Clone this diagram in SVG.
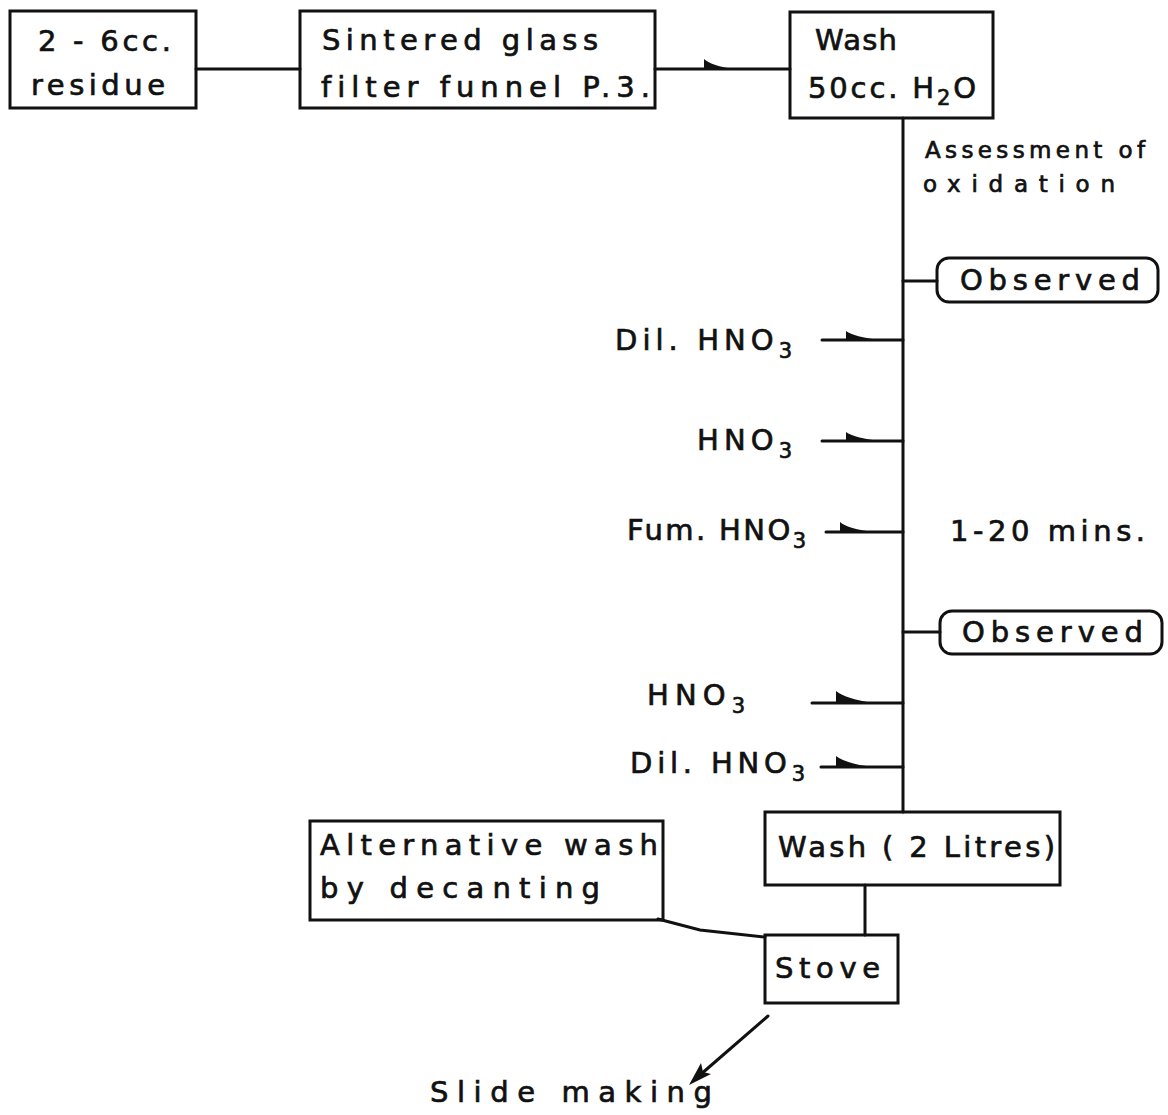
<svg xmlns="http://www.w3.org/2000/svg" width="1168" height="1115" viewBox="0 0 1168 1115">
<defs>
<style>
.box{fill:none;stroke:#111;stroke-width:3}
.ln{fill:none;stroke:#111;stroke-width:3;stroke-linecap:round}
.fin{fill:#111;stroke:none}
text{font-family:"DejaVu Sans","Liberation Sans",sans-serif;font-size:29px;fill:#111;stroke:#111;stroke-width:0.7;font-variant-ligatures:none}
.sm{font-size:23px}
.sub{font-size:21px}
</style>
</defs>
<rect width="1168" height="1115" fill="#fff"/>

<g id="connectors">
<line class="ln" x1="196" y1="69" x2="300" y2="69"/>
<line class="ln" x1="655" y1="69" x2="790" y2="69"/>
<path class="fin" d="M704,69 L704,59 Q712,66 734,69 Z"/>
<line class="ln" x1="903" y1="118" x2="903" y2="812"/>
<line class="ln" x1="903" y1="281" x2="937" y2="281"/>
<line class="ln" x1="822" y1="340" x2="903" y2="340"/>
<path class="fin" d="M846,340 L846,331 Q854,337 880,340 Z"/>
<line class="ln" x1="822" y1="441" x2="903" y2="441"/>
<path class="fin" d="M846,441 L846,432 Q854,438 880,441 Z"/>
<line class="ln" x1="826" y1="532" x2="903" y2="532"/>
<path class="fin" d="M840,532 L840,522 Q848,529 874,532 Z"/>
<line class="ln" x1="812" y1="703" x2="903" y2="703"/>
<path class="fin" d="M836,703 L836,691 Q846,699 874,703 Z"/>
<line class="ln" x1="821" y1="767" x2="903" y2="767"/>
<path class="fin" d="M836,767 L836,756 Q846,764 874,767 Z"/>
<line class="ln" x1="903" y1="632" x2="940" y2="632"/>
<line class="ln" x1="865" y1="885" x2="865" y2="935"/>
<polyline class="ln" points="658,919 700,930 765,937"/>
<line class="ln" x1="768" y1="1016" x2="700" y2="1075"/>
<path class="fin" d="M689,1085 L711,1074 L703,1072 L701,1063 Z"/>
</g>

<g id="n-residue">
<rect class="box" x="10" y="11" width="186" height="97"/>
<text x="38" y="51" textLength="133" lengthAdjust="spacing">2 - 6cc.</text>
<text x="31" y="95" textLength="134" lengthAdjust="spacing">residue</text>
</g>

<g id="n-filter">
<rect class="box" x="300" y="11" width="355" height="97"/>
<text x="322" y="50" textLength="276" lengthAdjust="spacing">Sintered glass</text>
<text x="321" y="97" textLength="329" lengthAdjust="spacing">filter funnel P.3.</text>
</g>

<g id="n-wash1">
<rect class="box" x="790" y="12" width="203" height="106"/>
<text x="815" y="50" textLength="82" lengthAdjust="spacing">Wash</text>
<text x="808" y="98" textLength="168" lengthAdjust="spacing">50cc. H<tspan class="sub" dy="7">2</tspan><tspan dy="-7">O</tspan></text>
</g>

<g id="n-assess">
<text class="sm" x="925" y="158" textLength="220" lengthAdjust="spacing">Assessment of</text>
<text class="sm" x="923" y="192" textLength="192" lengthAdjust="spacing">oxidation</text>
</g>

<g id="n-obs1">
<rect class="box" x="937" y="258" width="221" height="44" rx="12"/>
<text x="960" y="290" textLength="180" lengthAdjust="spacing">Observed</text>
</g>

<g id="n-dil1"><text x="615" y="350" textLength="177" lengthAdjust="spacing">Dil. HNO<tspan class="sub" dy="8">3</tspan></text></g>
<g id="n-hno1"><text x="697" y="450" textLength="95" lengthAdjust="spacing">HNO<tspan class="sub" dy="8">3</tspan></text></g>
<g id="n-fum"><text x="627" y="540" textLength="179" lengthAdjust="spacing">Fum. HNO<tspan class="sub" dy="8">3</tspan></text></g>
<g id="n-time"><text x="950" y="541" textLength="195" lengthAdjust="spacing">1-20 mins.</text></g>

<g id="n-obs2">
<rect class="box" x="940" y="611" width="222" height="43" rx="12"/>
<text x="962" y="642" textLength="181" lengthAdjust="spacing">Observed</text>
</g>

<g id="n-hno2"><text x="647" y="705" textLength="98" lengthAdjust="spacing">HNO<tspan class="sub" dy="8">3</tspan></text></g>
<g id="n-dil2"><text x="630" y="773" textLength="175" lengthAdjust="spacing">Dil. HNO<tspan class="sub" dy="8">3</tspan></text></g>

<g id="n-wash2">
<rect class="box" x="765" y="812" width="295" height="73"/>
<text x="778" y="857" textLength="277" lengthAdjust="spacing">Wash ( 2 Litres)</text>
</g>

<g id="n-alt">
<rect class="box" x="310" y="821" width="353" height="99"/>
<text x="320" y="855" textLength="338" lengthAdjust="spacing">Alternative wash</text>
<text x="320" y="898" textLength="280" lengthAdjust="spacing">by decanting</text>
</g>

<g id="n-stove">
<rect class="box" x="765" y="935" width="133" height="68"/>
<text x="775" y="978" textLength="105" lengthAdjust="spacing">Stove</text>
</g>

<g id="n-slide">
<text x="430" y="1102" textLength="282" lengthAdjust="spacing">Slide making</text>
</g>
</svg>
